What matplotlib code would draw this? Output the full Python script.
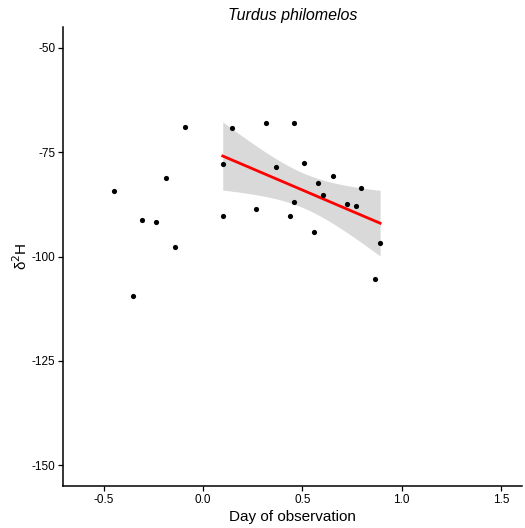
import numpy as np
import matplotlib
matplotlib.use("Agg")
import matplotlib.pyplot as plt

# ----------------------------------------------------------
# Data
# ----------------------------------------------------------

day = [-0.450, -0.353, -0.308, -0.235, -0.187, -0.140, -0.091,
       0.099, 0.099, 0.148, 0.267, 0.318, 0.365, 0.437, 0.459, 0.459,
       0.508, 0.556, 0.578, 0.605, 0.652, 0.723, 0.772, 0.797, 0.867, 0.891]

d2h = [-84.4, -109.5, -91.3, -91.7, -81.2, -97.7, -69.0,
       -77.9, -90.4, -69.2, -88.6, -68.1, -78.6, -90.3, -68.0, -87.0,
       -77.5, -94.1, -82.5, -85.3, -80.7, -87.4, -88.0, -83.6, -105.4, -96.8]

x_ticks = [-0.5, 0.0, 0.5, 1.0, 1.5]
y_ticks = [-150, -125, -100, -75, -50]

species = "Turdus philomelos"

# ----------------------------------------------------------
# Linear fit with 95% confidence band (points after day 0)
# ----------------------------------------------------------

x = np.array(day)
y = np.array(d2h)
sel = x > 0
xs, ys = x[sel], y[sel]
n = len(xs)
slope, intercept = np.polyfit(xs, ys, 1)
resid = ys - (slope * xs + intercept)
s = np.sqrt(np.sum(resid ** 2) / (n - 2))
t_crit = 2.110  # t(0.975, df=17)
xg = np.linspace(xs.min(), xs.max(), 80)
yg = slope * xg + intercept
se = s * np.sqrt(1 / n + (xg - xs.mean()) ** 2 / np.sum((xs - xs.mean()) ** 2))

# ----------------------------------------------------------
# Plot
# ----------------------------------------------------------

plt.rcParams["font.family"] = ["Liberation Sans", "DejaVu Sans"]

fig = plt.figure(figsize=(5.25, 5.28), dpi=100)
ax = fig.add_axes([63 / 525, 1 - 486 / 528, 459 / 525, 459 / 528])

ax.fill_between(xg, yg - t_crit * se, yg + t_crit * se, color="#d9d9d9", lw=0, zorder=1)
ax.plot(xg, yg, color="#ff0000", lw=2, zorder=2)
ax.scatter(x, y, s=14, color="black", zorder=3, linewidths=0)

ax.set_xlim(-0.705, 1.605)
ax.set_ylim(-155, -45)
ax.set_xticks(x_ticks)
ax.set_xticklabels(["-0.5", "0.0", "0.5", "1.0", "1.5"])
ax.set_yticks(y_ticks)
ax.set_yticklabels([str(v) for v in y_ticks])

for side in ["top", "right"]:
    ax.spines[side].set_visible(False)
for side in ["left", "bottom"]:
    ax.spines[side].set_linewidth(1.1)

ax.tick_params(length=3.5, width=0.9, labelsize=8.5, colors="black", pad=2)

ax.set_title(species, fontsize=11.5, style="italic", pad=5)
ax.set_xlabel("Day of observation", fontsize=11, labelpad=3)
ax.set_ylabel("δ$^2$H", fontsize=11, labelpad=1)

fig.savefig("out.png", dpi=100)
